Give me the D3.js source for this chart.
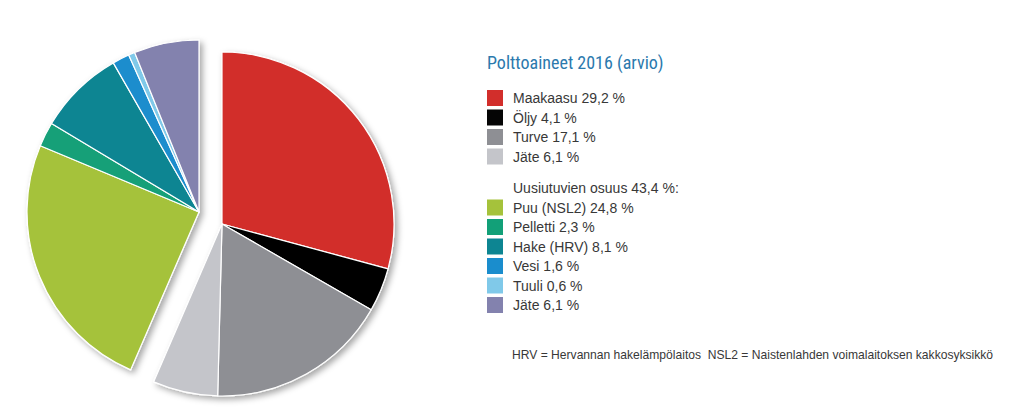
<!DOCTYPE html>
<html><head><meta charset="utf-8">
<script src="https://cdn.jsdelivr.net/npm/d3@7"></script>
<style>
html,body{margin:0;padding:0;background:#fff;}
svg{display:block;}
text{white-space:pre;}
</style></head>
<body>
<svg id="c" width="1023" height="418"></svg>
<script>
const categories = ["Maakaasu","Öljy","Turve","Jäte","Puu (NSL2)","Pelletti","Hake (HRV)","Vesi","Tuuli","Jäte"];
const values = [29.2,4.1,17.1,6.1,24.8,2.3,8.1,1.6,0.6,6.1];
const groups = ["fossil","fossil","fossil","fossil","renew","renew","renew","renew","renew","renew"];
const colors = ["#d22e2b","#050505","#8e8f94","#c4c5ca","#a5c23b","#12a078","#0d8592","#1a8dcd","#80c9e9","#8382ae"];
const valueLabels = ["29,2","4,1","17,1","6,1","24,8","2,3","8,1","1,6","0,6","6,1"];
const title = "Polttoaineet 2016 (arvio)";
const renewHeader = "Uusiutuvien osuus 43,4 %:";
const footnote = "HRV = Hervannan hakelämpölaitos  NSL2 = Naistenlahden voimalaitoksen kakkosyksikkö";

const svg = d3.select("#c");
const defs = svg.append("defs");
const f = defs.append("filter").attr("id","sh").attr("x","-20%").attr("y","-20%").attr("width","140%").attr("height","140%");
f.append("feDropShadow").attr("dx",3).attr("dy",3).attr("stdDeviation",3).attr("flood-color","#000").attr("flood-opacity",0.35);

const R = 172;
const pie = d3.pie().sort(null).value(d=>d.v);
const data = categories.map((c,i)=>({c, v:values[i], g:groups[i], col:colors[i]}));
const arcs = pie(data);
const arc = d3.arc().innerRadius(0).outerRadius(R);
const offsets = {fossil:[222,224], renew:[199,212]};

["renew","fossil"].forEach(g=>{
  const gg = svg.append("g").attr("transform",`translate(${offsets[g][0]},${offsets[g][1]})`).attr("filter","url(#sh)");
  gg.selectAll("path").data(arcs.filter(a=>a.data.g===g)).join("path")
    .attr("d",arc).attr("fill",d=>d.data.col).attr("stroke","#fff").attr("stroke-width",1.2).attr("stroke-linejoin","round");
});

const lx = 487, tx = 513;
svg.append("text").attr("x",lx).attr("y",69).text(title)
  .attr("font-family","'Liberation Sans Narrow','Roboto Condensed','Liberation Sans',sans-serif")
  .attr("font-size",18).attr("fill","#2b79ad");

const rowY = [98,117.5,137,156.5,207.5,227,246.5,266,285.5,305];
const lg = svg.append("g").attr("font-family","'Liberation Sans','Arial',sans-serif").attr("font-size",14).attr("fill","#383838");
data.forEach((d,i)=>{
  lg.append("rect").attr("x",lx).attr("y",rowY[i]-8).attr("width",16).attr("height",16).attr("fill",d.col);
  lg.append("text").attr("x",tx).attr("y",rowY[i]).attr("dy","0.36em").text(`${d.c} ${valueLabels[i]} %`);
});
lg.append("text").attr("x",tx).attr("y",188).attr("dy","0.36em").text(renewHeader);

svg.append("text").attr("x",512).attr("y",355).attr("dy","0.36em").text(footnote)
  .attr("font-family","'Liberation Sans','Arial',sans-serif").attr("font-size",12.1).attr("fill","#383838");
</script>
</body></html>
